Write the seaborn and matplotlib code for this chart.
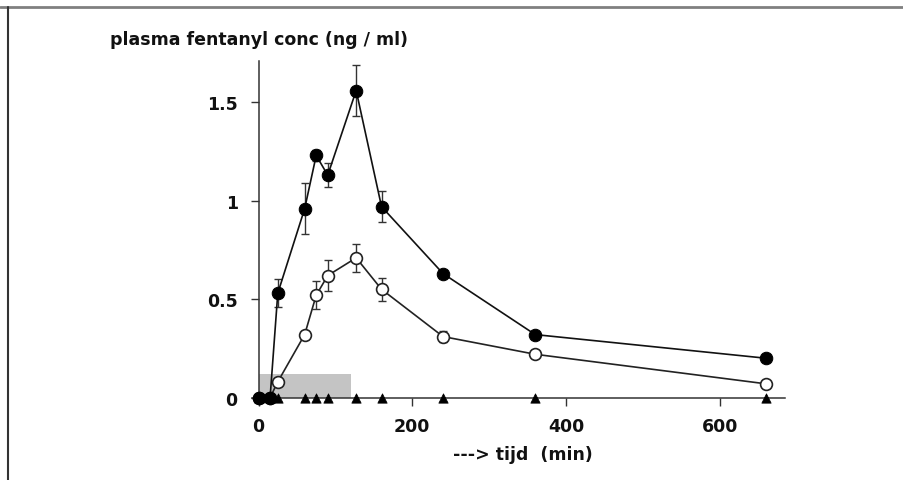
import numpy as np
import pandas as pd
import matplotlib
matplotlib.use('Agg')
import matplotlib.pyplot as plt
from matplotlib.lines import Line2D
import seaborn as sns

# data
t_filled = [0, 15, 25, 60, 75, 90, 127, 160, 240, 360, 660]
c_filled = [0, 0, 0.53, 0.96, 1.23, 1.13, 1.56, 0.97, 0.63, 0.32, 0.20]
se_filled = [0, 0, 0.07, 0.13, 0.03, 0.06, 0.13, 0.08, 0.02, 0.01, 0.01]

t_open = [0, 15, 25, 60, 75, 90, 127, 160, 240, 360, 660]
c_open = [0, 0, 0.08, 0.32, 0.52, 0.62, 0.71, 0.55, 0.31, 0.22, 0.07]
se_open = [0, 0, 0.02, 0.02, 0.07, 0.08, 0.07, 0.06, 0.03, 0.01, 0.01]

t_tri = [0, 15, 25, 60, 75, 90, 127, 160, 240, 360, 660]
c_tri = [0, 0, 0, 0, 0, 0, 0, 0, 0, 0, 0]

infusion_t = [0, 120]
infusion_top = [0.12, 0.12]

x_ticks = [0, 200, 400, 600]
y_ticks = [0, 0.5, 1, 1.5]
y_ticklabels = ['0', '0.5', '1', '1.5']

sns.set_style('ticks')
plt.rcParams['font.family'] = ['DejaVu Sans']
plt.rcParams['font.weight'] = 'bold'

fig = plt.figure(figsize=(9.04, 4.81), dpi=100)
ax = fig.add_axes([0.2788, 0.1509, 0.5896, 0.7202])

# shaded infusion period
ax.fill_between(infusion_t, 0, infusion_top, color='#c4c4c4', lw=0, zorder=1)

df_open = pd.DataFrame({'t': t_open, 'c': c_open})
df_filled = pd.DataFrame({'t': t_filled, 'c': c_filled})

ax.errorbar(t_open, c_open, yerr=se_open, fmt='none', ecolor='#333333',
            elinewidth=1, capsize=3, capthick=1, zorder=2)
sns.lineplot(data=df_open, x='t', y='c', ax=ax, color='#222222', lw=1.2,
             marker='o', markersize=8.5, markerfacecolor='white',
             markeredgecolor='#222222', markeredgewidth=1.2, zorder=3)

ax.errorbar(t_filled, c_filled, yerr=se_filled, fmt='none', ecolor='#333333',
            elinewidth=1, capsize=3, capthick=1, zorder=4)
sns.lineplot(data=df_filled, x='t', y='c', ax=ax, color='#111111', lw=1.2,
             marker='o', markersize=9, markerfacecolor='black',
             markeredgecolor='black', zorder=5)

sns.scatterplot(x=t_tri, y=c_tri, ax=ax, marker='^', s=45, color='black',
                edgecolor='black', zorder=6, clip_on=False)

ax.set_xlim(-8.5, 685)
ax.set_ylim(-0.05, 1.71)
ax.spines['left'].set_position(('data', 0))
ax.spines['bottom'].set_position(('data', 0))
ax.spines['left'].set_bounds(0, 1.71)
for s in ['left', 'bottom']:
    ax.spines[s].set_linewidth(1.1)
    ax.spines[s].set_color('#333333')
ax.spines['top'].set_visible(False)
ax.spines['right'].set_visible(False)

ax.set_xticks(x_ticks)
ax.set_yticks(y_ticks)
ax.set_yticklabels(y_ticklabels)
ax.tick_params(axis='both', length=6, width=1, color='#333333',
               labelsize=12.5, labelcolor='#111111')
ax.tick_params(axis='y', pad=9)
ax.tick_params(axis='x', pad=8)
ax.set_xlabel('')
ax.set_ylabel('')

fig.text(110 / 904, 1 - 45 / 481, 'plasma fentanyl conc (ng / ml)',
         fontsize=12.5, fontweight='bold', ha='left', va='baseline', color='#111111')
fig.text(523 / 904, 1 - 455 / 481, '---> tijd  (min)',
         fontsize=12.5, fontweight='bold', ha='center', va='center', color='#111111')

# frame lines of the original figure
fig.add_artist(Line2D([0, 1], [1 - 7.5 / 481] * 2, transform=fig.transFigure,
                      color='#808080', lw=2))
fig.add_artist(Line2D([7.5 / 904] * 2, [0, 1 - 7.5 / 481], transform=fig.transFigure,
                      color='#333333', lw=1.5))

fig.savefig('out.png', dpi=100)
